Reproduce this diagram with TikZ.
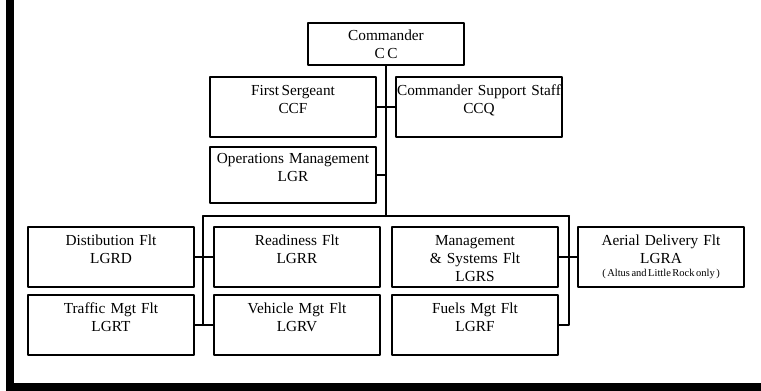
\documentclass[tikz,border=0pt]{standalone}
\usepackage{fontspec}
\setmainfont{Liberation Serif}
\usetikzlibrary{positioning}

\begin{document}
\begin{tikzpicture}[x=1pt, y=-1pt, line cap=round, line join=round,
    font=\fontsize{15.3}{18}\selectfont]
  \tikzset{
    box/.style={draw=black, line width=2pt, anchor=north, align=center,
      text width=164pt, inner xsep=1pt, inner ysep=5pt,
      text height=13pt, text depth=37pt},
    topbox/.style={box, text width=154pt, text height=12pt, text depth=20pt},
    link/.style={line width=2pt, draw=black},
    frame/.style={line width=8pt, draw=black, line cap=butt, line join=miter}
  }
  \useasboundingbox (0,0) rectangle (761,391);

  % frame left and bottom
  \draw[frame] (10,0) -- (10,387) -- (761,387);

  % top of the chart
  \node[topbox] (cc) at (386,22) {Commander\\C\,C};
  \node[box] (ccf) at (293,76) {First\,Sergeant\\CCF};
  \node[box] (ccq) at (479,76) {Commander Support Staff\\CCQ};
  \node[box, text height=11pt, text depth=35pt] (lgr) at (293,146)
    {Operations Management\\LGR};

  % flights, first row
  \node[box] (lgrd) at (111,226) {Distibution Flt\\LGRD};
  \node[box] (lgrr) at (297,226) {Readiness Flt\\LGRR};
  \node[box] (lgrs) at (475,226) {Management\\\&~Systems Flt\\LGRS};
  \node[box] (lgra) at (661,226)
    {Aerial Delivery Flt\\LGRA\\[-5pt]{\fontsize{10.5}{11}\selectfont\spaceskip=1.5pt ( Altus and Little Rock only )}};

  % flights, second row
  \node[box] (lgrt) at (111,294) {Traffic Mgt Flt\\LGRT};
  \node[box] (lgrv) at (297,294) {Vehicle Mgt Flt\\LGRV};
  \node[box] (lgrf) at (475,294) {Fuels Mgt Flt\\LGRF};

  % bus line
  \coordinate (busL) at (203,216);
  \coordinate (busR) at (569,216);
  \coordinate (busM) at (cc.south |- busL);

  \draw[link] (cc.south) -- (busM);
  \draw[link] (ccf.east) -- (ccq.west);
  \draw[link] (lgr.east) -- (lgr.east -| busM);
  \draw[link] (busL) -- (busR);

  % left branch
  \draw[link] (busL) -- (busL |- lgrt.east);
  \draw[link] (lgrd.east) -- (lgrr.west);
  \draw[link] (lgrt.east) -- (lgrv.west);

  % right branch
  \draw[link] (busR) -- (busR |- lgrf.east) -- (lgrf.east);
  \draw[link] (lgrs.east) -- (lgra.west);
\end{tikzpicture}
\end{document}
